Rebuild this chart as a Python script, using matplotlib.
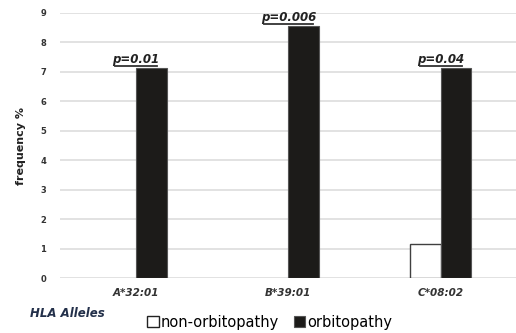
import numpy as np
import matplotlib.pyplot as plt
from matplotlib.patches import Patch

alleles = ["A*32:01", "B*39:01", "C*08:02"]
non_orbitopathy = [0.0, 0.0, 1.16]
orbitopathy = [7.14, 8.57, 7.14]
p_values = ["p=0.01", "p=0.006", "p=0.04"]

plt.rcParams['font.family'] = ['DejaVu Sans']

fig = plt.figure(figsize=(5.16, 3.33), dpi=100)
ax = fig.add_axes([0.116, 0.165, 0.886, 0.796])

x = np.arange(len(alleles))
w = 0.2
# zero-height bars get no outline so nothing shows on the baseline
ax.bar(x - w / 2, non_orbitopathy, w, color="white", edgecolor="#404040",
       linewidth=[1.0 if v > 0 else 0 for v in non_orbitopathy], zorder=3)
ax.bar(x + w / 2, orbitopathy, w, color="#1c1b19", edgecolor="#555555",
       linewidth=0.8, zorder=3)

# significance labels, underlined
for xi, h, p in zip(x, orbitopathy, p_values):
    t = ax.text(xi, h + 0.06, p, ha="center", va="bottom", fontsize=8.5,
                fontstyle="italic", fontweight="bold", color="#222222")
    fig.canvas.draw()
    bb = t.get_window_extent().transformed(ax.transData.inverted())
    ax.plot([bb.x0, bb.x1], [h + 0.05, h + 0.05], color="#333333",
            linewidth=1.3, zorder=4, clip_on=False)

ax.set_xlim(-0.5, 2.5)
ax.set_ylim(0, 9)
ax.set_yticks(range(10))
ax.set_xticks(x)
ax.set_xticklabels(alleles, fontsize=7.5, fontstyle="italic",
                   fontweight="bold", color="#333333")
ax.tick_params(axis="y", labelsize=6, length=0, pad=10, labelcolor="#333333")
ax.tick_params(axis="x", length=0, pad=7)
for lbl in ax.get_yticklabels():
    lbl.set_fontweight("bold")
ax.grid(axis="y", color="#dddddd", linewidth=1.2, zorder=0)
for s in ax.spines.values():
    s.set_visible(False)

ax.set_ylabel("frequency %", fontsize=8, fontweight="bold", color="#222222",
              labelpad=10)

fig.text(0.058, 0.06, "HLA Alleles", fontsize=8.5, fontstyle="italic",
         fontweight="bold", color="#23304a", va="center")

handles = [Patch(facecolor="white", edgecolor="#222222", linewidth=1.0,
                 label="non-orbitopathy"),
           Patch(facecolor="#1c1b19", edgecolor="#555555", linewidth=0.8,
                 label="orbitopathy")]
fig.legend(handles=handles, loc="center", bbox_to_anchor=(0.523, 0.033),
           ncol=2, frameon=False, fontsize=10.5, handlelength=0.8,
           handleheight=0.8, handletextpad=0.15, columnspacing=1.0,
           borderpad=0)

fig.savefig("out.png", dpi=100)
